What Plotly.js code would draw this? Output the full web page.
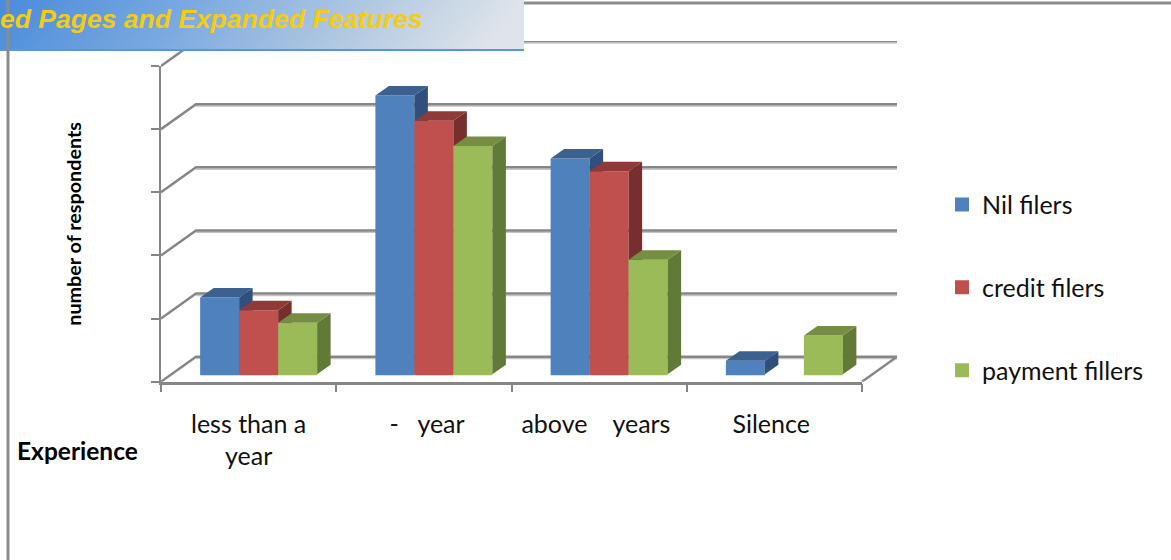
<!DOCTYPE html>
<html><head><meta charset="utf-8">
<script src="https://cdn.plot.ly/plotly-3.0.1.min.js"></script>
<style>html,body{margin:0;padding:0;background:#fff}#c{width:1171px;height:560px}</style>
</head><body><div id="c"></div>
<script>
var categories = ['less than a<br>year', '\u00a0-\u00a0\u00a0\u00a0year', 'above\u00a0\u00a0\u00a0\u00a0years\u00a0', 'Silence\u00a0'];
var seriesNames = ['Nil filers', 'credit filers', 'payment fillers'];
var nilFilers = [12, 44, 34, 2];
var creditFilers = [10, 40, 32, 0];
var paymentFillers = [8, 36, 18, 6];
var frontColors = ['#4f81bd', '#c0504d', '#9bbb59'];
var topColors = ['#3c618f', '#8f3a38', '#768e43'];
var sideColors = ['#2f4f7c', '#772f2e', '#627a37'];
var yTicks = [0, 10, 20, 30, 40, 50];
var xBoundaries = [-0.5, 0.5, 1.5, 2.5, 3.5];

var W = 1171, H = 560;
var pxL = 161, pxR = 862, pxB = 381.7, pxT = 66, wallPxX = 35, wallPxY = 25;
var ux = (pxR - pxL) / 4, uy = (pxB - pxT) / 50;
var wallDx = wallPxX / ux, wallDy = wallPxY / uy;
var barW = 39 / ux, barShift = 10 / ux, barLift = 7.4 / uy, faceDx = 13.5 / ux, faceDy = 9.5 / uy, edge = 1;
var gridColor = '#868686';
var allSeries = [nilFilers, creditFilers, paymentFillers];
var traces = [];

// back wall and floor, on their own wider subplot
var gx = [], gy = [], sx = [], sy = [];
yTicks.forEach(function (v) {
  gx.push(xBoundaries[0], xBoundaries[0] + wallDx, xBoundaries[4] + wallDx, null);
  gy.push(v, v + wallDy, v + wallDy, null);
  sx.push(xBoundaries[0] + wallDx, xBoundaries[4] + wallDx, null);
  sy.push(v + wallDy - 0.3, v + wallDy - 0.3, null);
});
gx.push(xBoundaries[4], xBoundaries[4] + wallDx, null);
gy.push(0, wallDy, null);
traces.push({type: 'scatter', mode: 'lines', x: sx, y: sy, showlegend: false, hoverinfo: 'skip', xaxis: 'x', yaxis: 'y', line: {color: '#c4c4c4', width: 1.5}});
traces.push({type: 'scatter', mode: 'lines', x: gx, y: gy, showlegend: false, hoverinfo: 'skip', xaxis: 'x', yaxis: 'y', line: {color: gridColor, width: 2.5}});

allSeries.forEach(function (vals, s) {
  var ax = s + 2;
  var off = barShift + (s - 1.5) * barW;
  traces.push({type: 'bar', name: seriesNames[s], x: [0, 1, 2, 3], y: vals, base: barLift, width: barW - 2 * edge / ux, offset: off + edge / ux,
    legendgroup: seriesNames[s], xaxis: 'x' + ax, yaxis: 'y' + ax,
    marker: {color: frontColors[s], line: {width: vals.map(function (v) { return v ? 2 * edge : 0; }), color: frontColors[s]}}});
  var tx = [], ty = [], dx = [], dy = [];
  vals.forEach(function (v, i) {
    if (!v) return;
    var l = i + off, r = l + barW, t = v + barLift + edge / uy, b = barLift;
    tx.push(l, r, r + faceDx, l + faceDx, l, null);
    ty.push(t, t, t + faceDy, t + faceDy, t, null);
    dx.push(r, r + faceDx, r + faceDx, r, r, null);
    dy.push(b, b + faceDy, t + faceDy, t, b, null);
  });
  traces.push({type: 'scatter', mode: 'lines', x: dx, y: dy, fill: 'toself', fillcolor: sideColors[s], line: {width: 0}, showlegend: false, hoverinfo: 'skip', xaxis: 'x' + ax, yaxis: 'y' + ax});
  traces.push({type: 'scatter', mode: 'lines', x: tx, y: ty, fill: 'toself', fillcolor: topColors[s], line: {width: 0}, showlegend: false, hoverinfo: 'skip', xaxis: 'x' + ax, yaxis: 'y' + ax});
});

var xRange = [xBoundaries[0], xBoundaries[4]], yRange = [0, 50];
var font = 'Lato, "Liberation Sans", sans-serif';
var frontXDomain = [pxL / W, pxR / W], frontYDomain = [(H - pxB) / H, (H - pxT) / H];

var bannerSvg = '<svg xmlns="http://www.w3.org/2000/svg" width="524" height="51"><defs><linearGradient id="g" x1="0" x2="1" y1="0" y2="0.08">' +
  '<stop offset="0" stop-color="#4a8bdb"/><stop offset="0.35" stop-color="#78a8e0"/><stop offset="0.65" stop-color="#a9c3e0"/><stop offset="1" stop-color="#dfe4ea"/>' +
  '</linearGradient></defs><rect width="524" height="51" fill="url(#g)"/><rect y="49" width="524" height="2" fill="#5a96d8"/></svg>';

var layout = {
  width: W, height: H, margin: {l: 0, r: 0, t: 0, b: 0}, paper_bgcolor: '#fff', plot_bgcolor: 'rgba(0,0,0,0)',
  font: {family: font, color: '#000', size: 25},
  barmode: 'overlay', showlegend: true,
  xaxis: {domain: [pxL / W, (pxR + wallPxX) / W], range: [xBoundaries[0], xBoundaries[4] + wallDx], visible: false, anchor: 'y'},
  yaxis: {domain: [(H - pxB) / H, (H - pxT + wallPxY) / H], range: [0, 50 + wallDy], visible: false, anchor: 'x'},
  xaxis2: {type: 'linear', domain: frontXDomain, range: xRange, tickmode: 'array', tickvals: xBoundaries, ticktext: ['', '', '', '', ''],
    showgrid: false, zeroline: false, showline: true, linecolor: gridColor, linewidth: 2.5, ticks: 'outside', ticklen: 8, tickwidth: 2, tickcolor: gridColor, anchor: 'y2'},
  yaxis2: {domain: frontYDomain, range: yRange, tickmode: 'array', tickvals: yTicks, showticklabels: false,
    showgrid: false, zeroline: false, showline: true, linecolor: gridColor, linewidth: 2, ticks: 'outside', ticklen: 8, tickwidth: 2, tickcolor: gridColor, anchor: 'x2',
    title: {text: 'number of respondents', standoff: 64, font: {family: font, size: 19.75, color: '#000', weight: 700}}},
  xaxis3: {overlaying: 'x2', range: xRange, anchor: 'y3', tickmode: 'array', tickvals: [0, 1, 2, 3], ticktext: categories, ticks: '', showline: false, showgrid: false, zeroline: false,
    ticklabelstandoff: 25, tickangle: 0, tickfont: {family: font, size: 25, color: '#111'}},
  yaxis3: {overlaying: 'y2', range: yRange, visible: false},
  xaxis4: {overlaying: 'x2', range: xRange, visible: false},
  yaxis4: {overlaying: 'y2', range: yRange, visible: false},
  legend: {x: 942 / W, y: (H - 181.7) / H, xanchor: 'left', yanchor: 'top', traceorder: 'grouped', tracegroupgap: 47.4, font: {family: font, size: 25, color: '#111'}, bgcolor: 'rgba(0,0,0,0)'},
  shapes: [
    {type: 'line', xref: 'paper', yref: 'paper', x0: 8 / W, x1: 8 / W, y0: 0, y1: 1, line: {color: '#8c8c8c', width: 3}},
    {type: 'line', xref: 'paper', yref: 'paper', x0: 524 / W, x1: 1, y0: (H - 3) / H, y1: (H - 3) / H, line: {color: '#8c8c8c', width: 3}}
  ],
  images: [{source: 'data:image/svg+xml;base64,' + btoa(bannerSvg), xref: 'paper', yref: 'paper', x: 0, y: 1, sizex: 524 / W, sizey: 51 / H, xanchor: 'left', yanchor: 'top', sizing: 'stretch', layer: 'above'}],
  annotations: [
    {text: 'ed Pages and Expanded Features', xref: 'paper', yref: 'paper', x: -2 / W, y: (H - 19) / H, xanchor: 'left', yanchor: 'middle', showarrow: false,
      font: {family: '"Liberation Sans", Arial, sans-serif', size: 26.5, color: '#f4cc12', weight: 700, style: 'italic'}},
    {text: 'Experience', xref: 'paper', yref: 'paper', x: 77 / W, y: (H - 450) / H, xanchor: 'center', yanchor: 'middle', showarrow: false,
      font: {family: font, size: 24.5, color: '#000', weight: 700}}
  ]
};
Plotly.newPlot('c', traces, layout, {displayModeBar: false});
</script></body></html>
